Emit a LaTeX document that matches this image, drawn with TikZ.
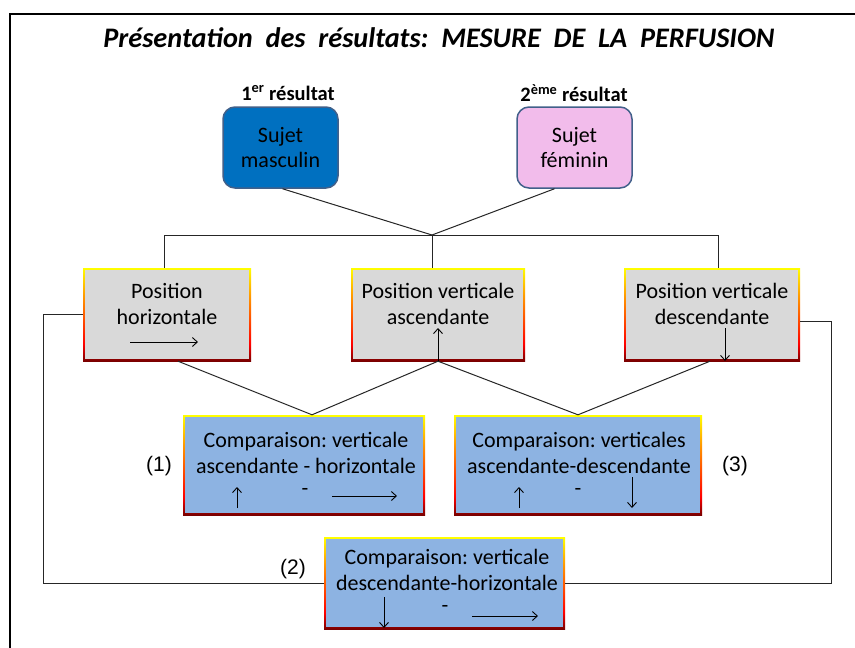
\documentclass[tikz,border=0pt]{standalone}
\usepackage{fontspec}
\setmainfont{Carlito}
\newfontfamily\arialf{Liberation Sans}
\usetikzlibrary{arrows.meta,calc}
\definecolor{mblue}{HTML}{0070C0}
\definecolor{fpink}{HTML}{F2BCEB}
\definecolor{tborder}{HTML}{41608A}
\definecolor{gfill}{HTML}{D9D9D9}
\definecolor{bfill}{HTML}{8DB3E2}
\definecolor{bdark}{HTML}{7A0000}
\definecolor{bred}{HTML}{FF0000}
\definecolor{borange}{HTML}{FF9900}
\definecolor{byellow}{HTML}{FFFF00}
\pgfdeclareverticalshading{bordfade}{100bp}{color(0bp)=(bdark); color(25bp)=(bdark); color(34bp)=(bred); color(60bp)=(borange); color(75bp)=(byellow); color(100bp)=(byellow)}
\begin{document}
\begin{tikzpicture}[x=1pt,y=-1pt,
  topbox/.style={draw=tborder, line width=1.5pt, rounded corners=12pt, minimum width=115pt, minimum height=81pt, align=center, font=\fontsize{22}{25}\selectfont, inner sep=0pt},
  gradbox/.style={inner sep=0pt, path picture={
      \shade[shading=bordfade] (path picture bounding box.south west) rectangle (path picture bounding box.north east);
      \fill[#1] ([shift={(2pt,-2pt)}]path picture bounding box.north west) rectangle ([shift={(-2pt,2pt)}]path picture bounding box.south east);}},
  txt/.style={align=center, font=\fontsize{22}{26}\selectfont, inner sep=0pt},
  boldlbl/.style={font=\fontsize{20.5}{24}\selectfont\bfseries, inner sep=0pt},
  numlbl/.style={font=\arialf\fontsize{21}{24}\selectfont, inner sep=0pt},
  arr/.style={-{Straight Barb[length=5pt,width=9pt]}, line width=0.9pt},
  conn/.style={line width=1pt, draw=black!85},
  dashlbl/.style={font=\fontsize{22}{24}\selectfont, inner sep=0pt}
]
\useasboundingbox (0,0) rectangle (855,648);
\fill[white] (0,0) rectangle (855,648);
% outer frame
\draw[line width=2pt] (10,648) -- (10,14) -- (855,14);

% title
\node[font=\fontsize{28.3}{32}\selectfont\bfseries\itshape, inner sep=0pt] (title) at (439,38)
  {Présentation\ \ des\ \ résultats:\ \ MESURE\ \ DE\ \ LA\ \ PERFUSION};

% result labels
\node[boldlbl] (r1) at (288,93) {1\textsuperscript{er} résultat};
\node[boldlbl] (r2) at (574,93) {2\textsuperscript{ème} résultat};

% top boxes
\node[topbox, fill=mblue] (masc) at (280.5,147.5) {Sujet\\masculin};
\node[topbox, fill=fpink] (fem) at (574.5,147.5) {Sujet\\féminin};

% gray position boxes
\node[gradbox=gfill, minimum width=168pt, minimum height=93pt] (gb1) at (167,314.5) {};
\node[gradbox=gfill, minimum width=174pt, minimum height=93pt] (gb2) at (438,314.5) {};
\node[gradbox=gfill, minimum width=176pt, minimum height=93pt] (gb3) at (712,314.5) {};
\node[txt] (t1) at (167,304) {Position\\horizontale};
\node[txt] (t2) at (438,304) {Position\ verticale\\ascendante};
\node[txt] (t3) at (712,304) {Position\ verticale\\descendante};

% blue comparison boxes
\node[gradbox=bfill, minimum width=242pt, minimum height=100pt] (B1) at (304,465) {};
\node[gradbox=bfill, minimum width=248pt, minimum height=100pt] (B3) at (578,465) {};
\node[gradbox=bfill, minimum width=241pt, minimum height=92pt] (B2) at (444.5,583) {};
\node[txt] (c1) at (306,453) {Comparaison:\ verticale\\ascendante - horizontale};
\node[txt] (c3) at (579,453) {Comparaison:\ verticales\\ascendante-descendante};
\node[txt] (c2) at (447,570) {Comparaison:\ verticale\\descendante-horizontale};

% number labels
\node[numlbl] (n1) at (159,466) {(1)};
\node[numlbl] (n3) at (735,466) {(3)};
\node[numlbl] (n2) at (293,569) {(2)};

% tree connectors
\coordinate (j) at (432,235);
\draw[conn] ([xshift=2pt]masc.south) -- (j);
\draw[conn] ([xshift=-20pt]fem.south) -- (j);
\draw[conn] ([xshift=-3pt]gb1.north) |- (j);
\draw[conn] (j) -| ([xshift=6pt]gb3.north);
\draw[conn] (j) -- ([xshift=-6pt]gb2.north);

\coordinate (v1) at ([xshift=8pt]B1.north);
\draw[conn] ([xshift=11pt]gb1.south) -- (v1);
\draw[conn] (gb2.south) -- (v1);
\draw[conn] (gb2.south) -- (B3.north);
\draw[conn] ([xshift=-2pt]gb3.south) -- (B3.north);

% loops to box (2)
\draw[conn] (gb1.west) -- ++(-39,0) |- (B2.west);
\draw[conn] ([yshift=-7pt]gb3.east) -- ++(31,0) |- (B2.east);

% arrows inside gray boxes
\coordinate (a1s) at (130,342); \coordinate (a1e) at (198,342);
\draw[arr] (a1s) -- (a1e);
\coordinate (a2e) at (438,328);
\draw[arr] (gb2.south) -- (a2e);
\coordinate (a3s) at (725,328); \coordinate (a3e) at (725,361);
\draw[arr] (a3s) -- (a3e);

% arrows inside B1
\coordinate (b1us) at (237,508); \coordinate (b1ue) at (237,487);
\draw[arr] (b1us) -- (b1ue);
\node[dashlbl] (d1) at (305,492) {-};
\coordinate (b1rs) at (332,496); \coordinate (b1re) at (397,496);
\draw[arr] (b1rs) -- (b1re);

% arrows inside B3
\coordinate (b3us) at (519,508); \coordinate (b3ue) at (519,487);
\draw[arr] (b3us) -- (b3ue);
\node[dashlbl] (d3) at (578,492) {-};
\coordinate (b3ds) at (632,477); \coordinate (b3de) at (632,508);
\draw[arr] (b3ds) -- (b3de);

% arrows inside B2
\coordinate (b2ds) at (384,597); \coordinate (b2de) at (384,628);
\draw[arr] (b2ds) -- (b2de);
\node[dashlbl] (d2) at (445,609) {-};
\coordinate (b2rs) at (472,616); \coordinate (b2re) at (538,616);
\draw[arr] (b2rs) -- (b2re);
\end{tikzpicture}
\end{document}
